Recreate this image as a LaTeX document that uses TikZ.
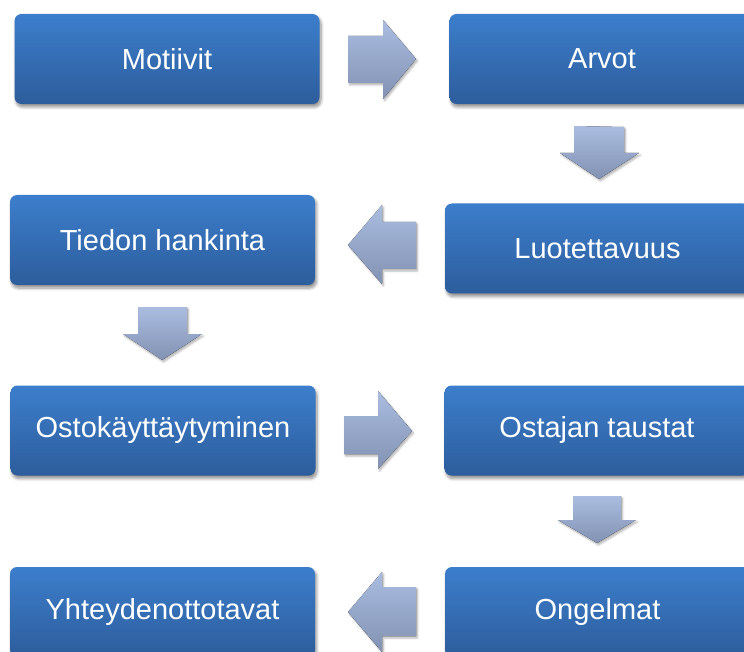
\documentclass[tikz,border=0pt]{standalone}
\usepackage{fontspec}
\setmainfont{Liberation Sans}
\usetikzlibrary{shadows.blur}
\definecolor{boxtop}{HTML}{3C7ECC}
\definecolor{boxbot}{HTML}{2D5D9C}
\definecolor{arrtop}{HTML}{AABDE0}
\definecolor{arrbot}{HTML}{8292B3}
\tikzset{
  stepbox/.style={rectangle, rounded corners=7pt, minimum width=305pt, minimum height=90pt,
    inner sep=0pt, top color=boxtop, bottom color=boxbot, draw=none,
    text=white, font=\fontsize{29}{34}\selectfont,
    blur shadow={shadow xshift=1.5pt, shadow yshift=-3pt, shadow blur steps=6, shadow opacity=45, shadow blur radius=3pt}},
  blockarrow/.style={top color=arrtop, bottom color=arrbot, draw=none,
    blur shadow={shadow xshift=1.5pt, shadow yshift=-2pt, shadow blur steps=5, shadow opacity=30, shadow blur radius=2pt}}
}
\begin{document}
\begin{tikzpicture}[x=1pt,y=-1pt]
\useasboundingbox (0,0) rectangle (744,652);
% boxes
\node[stepbox] (mot) at (167,59) {Motiivit};
\node[stepbox] (arv) at (602,59) {Arvot};
\node[stepbox] (tie) at (162.5,240) {Tiedon hankinta};
\node[stepbox] (luo) at (597.5,248.5) {Luotettavuus};
\node[stepbox] (ost) at (163,430.5) {Ostokäyttäytyminen};
\node[stepbox] (taus) at (597,430.5) {Ostajan taustat};
\node[stepbox] (yht) at (162.5,612) {Yhteydenottotavat};
\node[stepbox] (ong) at (597.5,612) {Ongelmat};
% arrows
% Motiivit -> Arvot
\fill[blockarrow] (348,36) -- (383,36) -- (383,20) -- (416,59) -- (383,99) -- (383,83) -- (348,83) -- cycle;
% Arvot -> Luotettavuus
\fill[blockarrow] (574,126) -- (624,127) -- (624,153) -- (639,153) -- (599,179) -- (560,153) -- (574,153) -- cycle;
% Luotettavuus -> Tiedon hankinta
\fill[blockarrow] (416,222) -- (382,222) -- (382,205) -- (348,245) -- (382,284) -- (382,269) -- (416,269) -- cycle;
% Tiedon hankinta -> Ostokayttaytyminen
\fill[blockarrow] (138,307) -- (187,307) -- (187,334) -- (202,334) -- (162,360) -- (123,334) -- (138,334) -- cycle;
% Ostokayttaytyminen -> Ostajan taustat
\fill[blockarrow] (344,416) -- (378,416) -- (378,391) -- (412,431) -- (378,469) -- (378,454) -- (344,454) -- cycle;
% Ostajan taustat -> Ongelmat
\fill[blockarrow] (573,496) -- (621,496) -- (621,520) -- (636,520) -- (597,543) -- (558,520) -- (573,520) -- cycle;
% Ongelmat -> Yhteydenottotavat
\fill[blockarrow] (416,587) -- (382,587) -- (382,572) -- (348,612) -- (382,652) -- (382,636) -- (416,636) -- cycle;
\end{tikzpicture}
\end{document}
